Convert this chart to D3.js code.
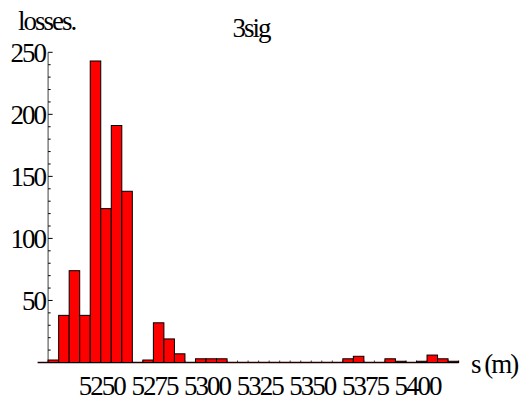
<!DOCTYPE html>
<html>
<head>
<meta charset="utf-8">
<script src="https://cdn.jsdelivr.net/npm/d3@7"></script>
<style>
  body { margin: 0; background: #fff; }
  text { font-family: "Liberation Serif", "DejaVu Serif", serif; font-size: 27px; letter-spacing: -2px; fill: #000; }
</style>
</head>
<body>
<svg id="chart" width="524" height="400"></svg>
<script>
// histogram bins (left edge, 5 m wide) and counts
const binStarts = [5220, 5225, 5230, 5235, 5240, 5245, 5250, 5255, 5260, 5265,
                   5270, 5275, 5280, 5285, 5290, 5295, 5300, 5305, 5310, 5315,
                   5320, 5325, 5330, 5335, 5340, 5345, 5350, 5355, 5360, 5365,
                   5370, 5375, 5380, 5385, 5390, 5395, 5400, 5405, 5410, 5415];
const counts = [0, 2, 38, 74, 38, 243, 124, 191, 138, 0,
                2, 32, 19, 7, 0, 3, 3, 3, 0, 0,
                0, 0, 0, 0, 0, 0, 0, 0, 0, 3,
                5, 0, 0, 3, 1, 0, 1, 6, 3, 1];
const binWidth = 5;
const xTicks = [5250, 5275, 5300, 5325, 5350, 5375, 5400];
const yTicks = [50, 100, 150, 200, 250];

const svg = d3.select("#chart");

const x = d3.scaleLinear().domain([5220, 5420]).range([37.6, 458.6]);
const y = d3.scaleLinear().domain([0, 250]).range([362.5, 52.3]);

// small ticks along the baseline at every bin edge
const minorX = d3.range(5225, 5421, 5);
svg.append("g").selectAll("line")
  .data(minorX)
  .enter().append("line")
  .attr("x1", d => x(d)).attr("x2", d => x(d))
  .attr("y1", y(0)).attr("y2", y(0) - 2)
  .attr("stroke", "#444").attr("stroke-width", 1);

// y axis (gray line, ticks pointing into the plot)
const yAxisX = x(5225);
svg.append("line")
  .attr("x1", yAxisX).attr("x2", yAxisX)
  .attr("y1", y(0)).attr("y2", y(250))
  .attr("stroke", "#808080").attr("stroke-width", 1.5);

const minorY = d3.range(10, 251, 10);
svg.append("g").selectAll("line")
  .data(minorY)
  .enter().append("line")
  .attr("x1", yAxisX).attr("x2", d => yAxisX + (d % 50 === 0 ? 4.5 : 2.5))
  .attr("y1", d => y(d)).attr("y2", d => y(d))
  .attr("stroke", "#000").attr("stroke-width", 1);

svg.append("g").selectAll("text")
  .data(yTicks)
  .enter().append("text")
  .attr("x", 45)
  .attr("y", d => y(d))
  .attr("dy", "0.36em")
  .attr("text-anchor", "end")
  .text(d => d);

// x tick labels
svg.append("g").selectAll("text")
  .data(xTicks)
  .enter().append("text")
  .attr("x", d => x(d) + 1)
  .attr("y", 395)
  .attr("text-anchor", "middle")
  .text(d => d);

// baseline (zero-height bins show up as a dark line)
svg.append("line")
  .attr("x1", x(5220)).attr("x2", x(5420))
  .attr("y1", y(0)).attr("y2", y(0))
  .attr("stroke", "#200").attr("stroke-width", 1.5);

// bars
svg.append("g").selectAll("rect")
  .data(binStarts.map((s, i) => ({ s: s, c: counts[i] })).filter(d => d.c > 0))
  .enter().append("rect")
  .attr("x", d => x(d.s))
  .attr("y", d => y(d.c))
  .attr("width", d => x(d.s + binWidth) - x(d.s))
  .attr("height", d => y(0) - y(d.c))
  .attr("fill", "#ff0000")
  .attr("stroke", "#000")
  .attr("stroke-width", 1);

// labels
svg.append("text").attr("x", 18).attr("y", 30).text("losses.");
svg.append("text").attr("x", 251).attr("y", 36.5).attr("text-anchor", "middle").text("3sig");
svg.append("text").attr("x", 471).attr("y", 373).text("s (m)");
</script>
</body>
</html>
